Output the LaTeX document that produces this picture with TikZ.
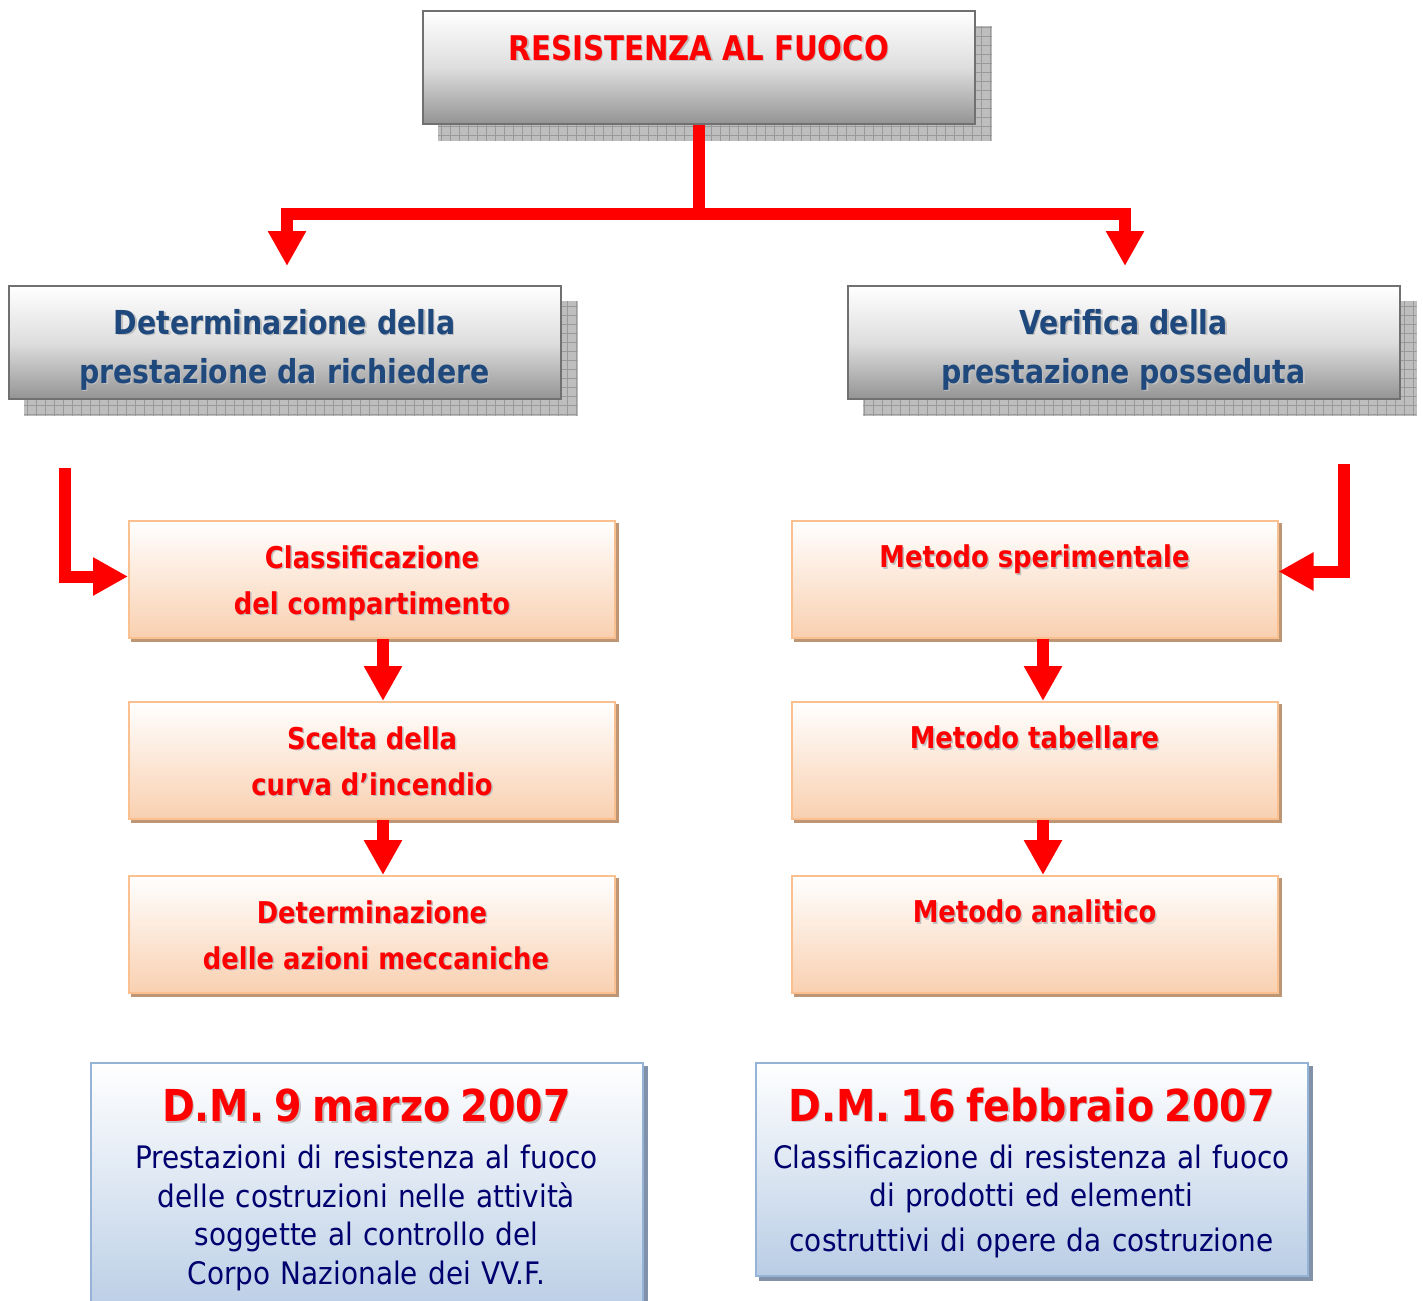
\documentclass[tikz,border=0pt]{standalone}
\usepackage{fontspec}
\newfontfamily\tahoma{DejaVu Sans}[FakeStretch=0.9]
\newfontfamily\tahomanarrow{DejaVu Sans}[FakeStretch=0.86]
\usetikzlibrary{arrows.meta,backgrounds}
\definecolor{boxgray}{RGB}{112,112,112}
\definecolor{headblue}{RGB}{31,73,125}
\definecolor{textnavy}{RGB}{0,0,110}
\definecolor{peachline}{RGB}{250,192,144}
\definecolor{peachfill}{RGB}{249,208,176}
\definecolor{peachshadow}{RGB}{190,150,115}
\definecolor{steelfill}{RGB}{185,205,229}
\definecolor{steelline}{RGB}{149,179,215}
\definecolor{steelshadow}{RGB}{130,145,170}
\definecolor{gridgray}{RGB}{190,190,190}
\newcommand\shtext[1]{\makebox[0pt][l]{\kern1.5pt\raisebox{-1.5pt}{\color{black!25}#1}}#1}
\newcommand\topstrut{\rule{0pt}{31pt}}
\newcommand\botstrut{\rule[-7.5pt]{0pt}{0pt}}
\def\redarrow{\draw[fatarrow]}
\tikzset{
  graybox/.style={draw=boxgray, line width=2pt, top color=white, bottom color=black!42, middle color=black!13,
    minimum width=552pt, minimum height=113pt, inner sep=0pt, align=center},
  peachbox/.style={draw=peachline, line width=2pt, top color=white, bottom color=peachfill,
    minimum width=486pt, minimum height=117pt, inner sep=0pt, align=center, text=red,
    font=\tahomanarrow\bfseries\fontsize{30}{46}\selectfont},
  lawbox/.style={draw=steelline, line width=2pt, top color=white, bottom color=steelfill,
    text width=530pt, inner xsep=11pt, inner ysep=26pt, align=center, text=textnavy,
    font=\tahoma\fontsize{31}{38.5}\selectfont},
  fatarrow/.style={draw=red, line width=12pt, line join=miter, -{Triangle[width=36pt,length=35pt]}},
  redline/.style={draw=red, line width=12pt}
}
\begin{document}
\begin{tikzpicture}[x=1pt,y=-1pt]
\useasboundingbox (0,0) rectangle (1423,1300);
\node[graybox, text=red, font=\tahomanarrow\bfseries\fontsize{34}{40}\selectfont] (fuoco) at (699,67.5) {\shtext{RESISTENZA AL FUOCO}\\\mbox{}};
\node[graybox, text=headblue, font=\tahomanarrow\bfseries\fontsize{33}{49}\selectfont] (richiesta) at (284.5,342.5) {\rule{0pt}{41pt}\shtext{Determinazione della}\\\shtext{prestazione da richiedere}};
\node[graybox, text=headblue, font=\tahomanarrow\bfseries\fontsize{33}{49}\selectfont] (posseduta) at (1123.5,342.5) {\rule{0pt}{41pt}\shtext{Verifica della}\\\shtext{prestazione posseduta}};

\node[peachbox] (compart) at (372,579.5) {\topstrut\shtext{Classificazione}\\\shtext{del compartimento}\botstrut};
\node[peachbox] (curva) at (372,760.5) {\topstrut\shtext{Scelta della}\\\shtext{curva d’incendio}\botstrut};
\node[peachbox] (azioni) at (372,934.5) {\topstrut\shtext{Determinazione}\\\hspace{8pt}\shtext{delle azioni meccaniche}\botstrut};
\node[peachbox] (sperim) at (1034.5,579.5) {\shtext{Metodo sperimentale}\\\mbox{}};
\node[peachbox] (tabell) at (1034.5,760.5) {\shtext{Metodo tabellare}\\\mbox{}};
\node[peachbox] (analit) at (1034.5,934.5) {\shtext{Metodo analitico}\\\mbox{}};

\node[lawbox, anchor=north] (dmmarzo) at (366.5,1062) {{\fontsize{44}{52}\selectfont\bfseries\color{red}\shtext{D.M. 9 marzo 2007}}\\[8.5pt]
  Prestazioni di resistenza al fuoco\\delle costruzioni nelle attività\\soggette al controllo del\\Corpo Nazionale dei VV.F.};
\node[lawbox, anchor=north, inner ysep=18pt] (dmfebbraio) at (1031.5,1062) {\rule{0pt}{40pt}{\fontsize{44}{52}\selectfont\bfseries\color{red}\shtext{D.M. 16 febbraio 2007}}\\[8.5pt]
  Classificazione di resistenza al fuoco\\di prodotti ed elementi\\[6.5pt]costruttivi di opere da costruzione};

\begin{scope}[on background layer]
\foreach \n in {fuoco,richiesta,posseduta} {
  \fill[gridgray] ([shift={(16,16)}]\n.north west) rectangle ([shift={(16,16)}]\n.south east);
  \begin{scope}
    \clip ([shift={(16,16)}]\n.north west) rectangle ([shift={(16,16)}]\n.south east);
    \draw[black!40, line width=0.5pt, step=9pt] ([shift={(16,16)}]\n.north west) grid ([shift={(16,16)}]\n.south east);
  \end{scope}
}
\foreach \n in {compart,curva,azioni,sperim,tabell,analit}
  \fill[peachshadow] ([shift={(3,3)}]\n.north west) rectangle ([shift={(3,3)}]\n.south east);
\foreach \n in {dmmarzo,dmfebbraio}
  \fill[steelshadow] ([shift={(4,4)}]\n.north west) rectangle ([shift={(4,4)}]\n.south east);
\end{scope}

\coordinate (split) at (699,214);
\draw[redline] (fuoco.south) -- (split);
\redarrow (split) -| ([xshift=2.5pt,yshift=19pt]richiesta.north);
\redarrow (split) -| ([xshift=1.5pt,yshift=19pt]posseduta.north);

\coordinate (lfeed) at (65,468);
\redarrow (lfeed) |- ([yshift=3pt]compart.west);
\coordinate (rfeed) at (1344,464);
\redarrow (rfeed) |- ([yshift=8pt]sperim.east);

\redarrow ([xshift=11pt]compart.south) -- ([xshift=11pt]curva.north);
\redarrow ([xshift=11pt]curva.south) -- ([xshift=11pt]azioni.north);
\redarrow ([xshift=8.5pt]sperim.south) -- ([xshift=8.5pt]tabell.north);
\redarrow ([xshift=8.5pt]tabell.south) -- ([xshift=8.5pt]analit.north);
\end{tikzpicture}
\end{document}
